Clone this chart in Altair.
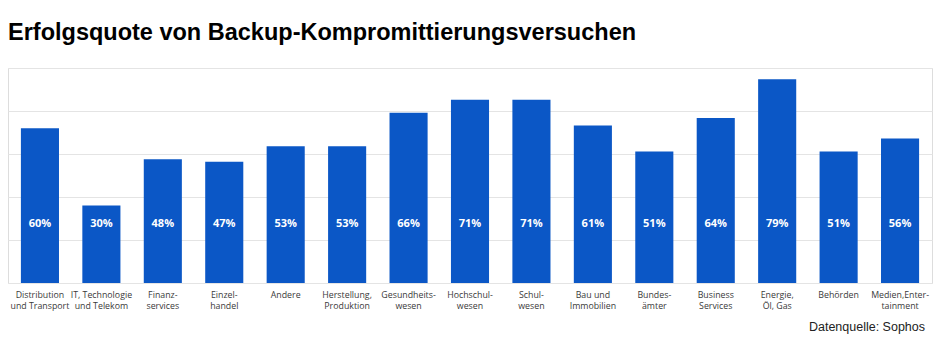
import altair as alt
import pandas as pd

categories = [
    "Distribution|und Transport",
    "IT, Technologie|und Telekom",
    "Finanz-|services",
    "Einzel-|handel",
    "Andere",
    "Herstellung,|Produktion",
    "Gesundheits-|wesen",
    "Hochschul-|wesen",
    "Schul-|wesen",
    "Bau und|Immobilien",
    "Bundes-|ämter",
    "Business|Services",
    "Energie,|Öl, Gas",
    "Behörden",
    "Medien,Enter-|tainment",
]
values = [60, 30, 48, 47, 53, 53, 66, 71, 71, 61, 51, 64, 79, 51, 56]
grid_values = [0, 16.667, 33.333, 50, 66.667, 83.333]
title_text = "Erfolgsquote von Backup-Kompromittierungsversuchen"
source_text = "Datenquelle: Sophos"

df = pd.DataFrame({
    "cat": categories,
    "val": values,
    "lab": [f"{v}%" for v in values],
})

x_enc = alt.X(
    "cat:N",
    sort=None,
    scale=alt.Scale(paddingInner=0.38, paddingOuter=0.21),
    axis=alt.Axis(
        title=None,
        labelAngle=0,
        labelExpr="split(datum.label, '|')",
        labelFont="Open Sans",
        labelFontSize=8.8,
        labelColor="#3a3a3a",
        labelLineHeight=11,
        labelPadding=7,
        domain=False,
        ticks=False,
        labelBaseline="top",
    ),
)

y_scale = alt.Scale(domain=[0, 83.333], nice=False, zero=True)

bars = alt.Chart(df).mark_bar(color="#0b57c6").encode(
    x=x_enc,
    y=alt.Y(
        "val:Q",
        scale=y_scale,
        axis=alt.Axis(
            title=None,
            labels=False,
            ticks=False,
            domain=False,
            grid=True,
            values=grid_values,
            gridColor="#e4e4e4",
            gridWidth=1,
        ),
    ),
)

text = alt.Chart(df).mark_text(
    color="white",
    font="Open Sans",
    fontSize=11,
    fontWeight="bold",
    baseline="middle",
    align="center",
).encode(
    x=alt.X("cat:N", sort=None),
    y=alt.datum(22.8),
    text="lab:N",
)

source = alt.Chart(pd.DataFrame({"t": [source_text]})).mark_text(
    font="Liberation Sans",
    fontSize=12.5,
    color="#222222",
    align="right",
    baseline="middle",
).encode(
    x=alt.value(917),
    y=alt.value(259),
    text="t:N",
)

chart = alt.layer(bars, text, source).properties(
    width=924,
    height=215,
    title=alt.TitleParams(
        title_text,
        anchor="start",
        font="Liberation Sans",
        fontSize=23.5,
        fontWeight="bold",
        color="#000000",
        baseline="alphabetic",
        offset=5,
    ),
    autosize=alt.AutoSizeParams(type="none"),
    padding={"left": 8, "top": 68, "right": 13, "bottom": 68},
).configure_view(stroke=None).configure(background="white")

chart.save("out.html", embed_options={"renderer": "svg", "actions": False})
